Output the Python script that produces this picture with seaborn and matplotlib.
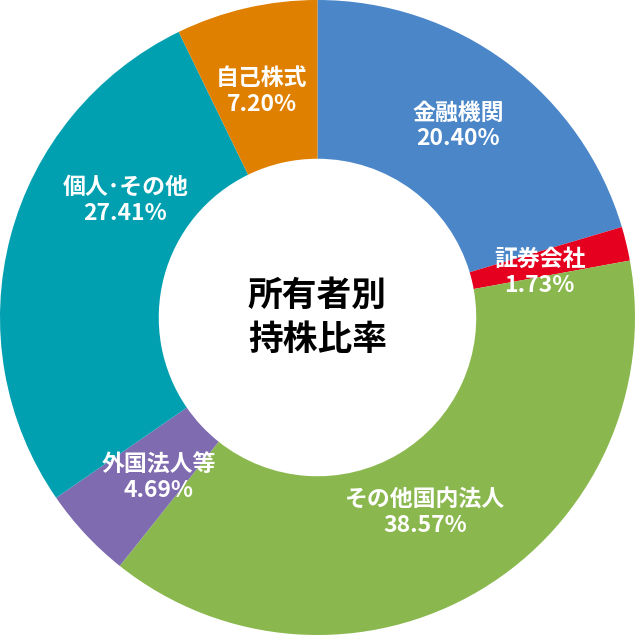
import matplotlib
matplotlib.use("Agg")
import matplotlib.pyplot as plt
import seaborn as sns
import numpy as np

labels = ["金融機関", "証券会社", "その他国内法人", "外国法人等", "個人･その他", "自己株式"]
values = [20.40, 1.73, 38.57, 4.69, 27.41, 7.20]
colors = ["#4a86c8", "#e60020", "#8ab84f", "#7f6bb0", "#00a0b0", "#e08000"]

sns.set_theme(style="white")
plt.rcParams['font.family'] = ['Noto Sans CJK JP', 'DejaVu Sans']

fig = plt.figure(figsize=(6.35, 6.35), dpi=100)
ax = fig.add_axes([0, 0, 1, 1])
wedges, _ = ax.pie(values, colors=colors, startangle=90, counterclock=False,
                   radius=1.0, wedgeprops=dict(width=0.5, edgecolor="none"))
ax.set_aspect("equal")
ax.set_xlim(-1.0, 1.0)
ax.set_ylim(-1.0, 1.0)

offsets = {0: (0.0, 0.01), 1: (-0.02, -0.03), 2: (-0.04, 0.02),
           3: (0.04, 0.0), 4: (0.11, 0.18), 5: (-0.01, -0.01)}
total = sum(values)
cum = 0
for i, (lab, v) in enumerate(zip(labels, values)):
    mid = (cum + v / 2) / total * 2 * np.pi
    cum += v
    r = 0.74
    x, y = r * np.sin(mid), r * np.cos(mid)
    dx, dy = offsets.get(i, (0, 0))
    ax.text(x + dx, y + dy, f"{lab}\n{v:.2f}%", ha="center", va="center",
            color="white", fontsize=16.5, fontweight="bold", linespacing=1.15)

ax.text(0, 0, "所有者別\n持株比率", ha="center", va="center", color="black",
        fontsize=25, fontweight="bold", linespacing=1.3)
fig.savefig("out.png", dpi=100, facecolor="white")
